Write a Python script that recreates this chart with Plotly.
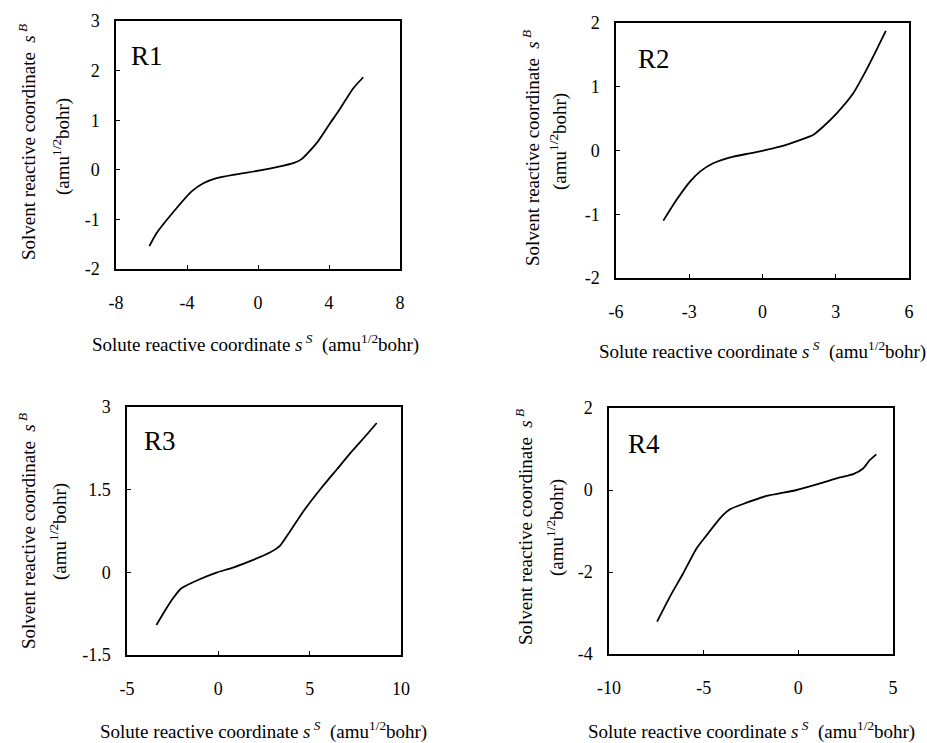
import plotly.graph_objects as go

# ---- data ----
r1_x = [-6.12, -5.71, -4.58, -3.74, -3.08, -2.33, -1.39, 0.11, 1.05, 1.99, 2.46, 3.30, 4.06, 4.52, 5.37, 5.93]
r1_y = [-1.54, -1.275, -0.77, -0.436, -0.27, -0.168, -0.10, -0.013, 0.054, 0.134, 0.215, 0.537, 0.94, 1.174, 1.644, 1.866]

r2_x = [-4.06, -3.52, -2.97, -2.56, -2.02, -1.20, -0.52, 0.03, 0.71, 1.53, 2.07, 2.48, 3.03, 3.71, 4.25, 4.66, 5.05]
r2_y = [-1.10, -0.774, -0.488, -0.331, -0.20, -0.096, -0.044, -0.003, 0.06, 0.164, 0.243, 0.373, 0.58, 0.894, 1.26, 1.57, 1.875]

r3_x = [-3.39, -2.84, -2.48, -2.02, -1.02, -0.10, 0.81, 1.91, 2.82, 3.37, 3.92, 4.65, 5.56, 6.47, 7.39, 8.12, 8.67]
r3_y = [-0.955, -0.652, -0.47, -0.289, -0.125, -0.004, 0.087, 0.226, 0.359, 0.48, 0.741, 1.104, 1.498, 1.861, 2.225, 2.497, 2.71]

r4_x = [-7.46, -6.78, -6.08, -5.37, -4.84, -4.14, -3.61, -2.73, -1.67, -0.09, 1.14, 2.19, 2.90, 3.42, 3.77, 4.12]
r4_y = [-3.21, -2.60, -2.03, -1.42, -1.10, -0.69, -0.47, -0.31, -0.146, 0.0, 0.16, 0.306, 0.386, 0.524, 0.727, 0.87]

panel_names = ["R1", "R2", "R3", "R4"]
x_ranges = [[-8, 8], [-6, 6], [-5, 10], [-10, 5]]
y_ranges = [[-2, 3], [-2, 2], [-1.5, 3], [-4, 2]]
x_ticks = [[-8, -4, 0, 4, 8], [-6, -3, 0, 3, 6], [-5, 0, 5, 10], [-10, -5, 0, 5]]
x_ticktext = [["-8", "-4", "0", "4", "8"], ["-6", "-3", "0", "3", "6"], ["-5", "0", "5", "10"], ["-10", "-5", "0", "5"]]
y_ticks = [[-2, -1, 0, 1, 2, 3], [-2, -1, 0, 1, 2], [-1.5, 0, 1.5, 3], [-4, -2, 0, 2]]
y_ticktext = [["-2", "-1", "0", "1", "2", "3"], ["-2", "-1", "0", "1", "2"],
              ["-1.5", "0", "1.5", "3"], ["-4", "-2", "0", "2"]]
label_pos = [(-7.25, 2.3), (-5.18, 1.44), (-4.16, 2.38), (-9.09, 1.13)]

xs = [r1_x, r2_x, r3_x, r4_x]
ys = [r1_y, r2_y, r3_y, r4_y]

W, H = 927, 743
# plot boxes in pixels: (left, right, top, bottom)
boxes = [(116, 400, 21, 269), (616, 909, 23, 278), (127, 401, 407, 655), (609, 893, 408, 654)]

FONT = "Liberation Serif, Times New Roman, DejaVu Serif, serif"

fig = go.Figure()
layout = dict(width=W, height=H, margin=dict(l=0, r=0, t=0, b=0, autoexpand=False),
              paper_bgcolor="white", plot_bgcolor="white", showlegend=False,
              font=dict(family=FONT, size=18, color="black"))
annotations = []

for i in range(4):
    n = "" if i == 0 else str(i + 1)
    l, r, t, b = boxes[i]
    fig.add_trace(go.Scatter(x=xs[i], y=ys[i], mode="lines",
                             line=dict(color="black", width=1.8, shape="spline", smoothing=0.6),
                             xaxis="x" + n, yaxis="y" + n, hoverinfo="skip"))
    layout["xaxis" + n] = dict(domain=[l / W, r / W], range=x_ranges[i], anchor="y" + n,
                               tickvals=x_ticks[i], ticktext=x_ticktext[i], ticks="inside", ticklen=4,
                               tickcolor="black", showline=True, linecolor="black", linewidth=1.5, mirror=True,
                               showgrid=False, zeroline=False, ticklabelstandoff=17, automargin=False,
                               tickfont=dict(family=FONT, size=18, color="black"))
    layout["yaxis" + n] = dict(domain=[1 - b / H, 1 - t / H], range=y_ranges[i], anchor="x" + n,
                               tickvals=y_ticks[i], ticktext=y_ticktext[i], ticks="inside", ticklen=4,
                               tickcolor="black", showline=True, linecolor="black", linewidth=1.5, mirror=True,
                               showgrid=False, zeroline=False, ticklabelstandoff=11, automargin=False,
                               tickfont=dict(family=FONT, size=18, color="black"))
    lx, ly = label_pos[i]
    annotations.append(dict(x=lx, y=ly, xref="x" + n, yref="y" + n, text=panel_names[i], showarrow=False,
                            xanchor="left", yanchor="middle", font=dict(family=FONT, size=27, color="black")))

# axis titles (pixel positions)
xtitle = "Solute reactive coordinate <i>s</i><sup> <i>S</i></sup>  (amu<sup>1/2</sup>bohr)"
ytitle1 = "Solvent reactive coordinate  <i>s</i><sup> <i>B</i></sup>"
ytitle2 = "(amu<sup>1/2</sup>bohr)"
xt_pos = [(256, 343), (762, 350), (263, 730), (751, 730)]
yt1_pos = [(27, 142), (531, 148), (27, 531), (524, 527)]
yt2_pos = [(61, 147), (558, 142), (58, 532), (555, 528)]
for i in range(4):
    annotations.append(dict(x=xt_pos[i][0] / W, y=1 - xt_pos[i][1] / H, xref="paper", yref="paper",
                            text=xtitle, showarrow=False, xanchor="center", yanchor="middle",
                            font=dict(family=FONT, size=19, color="black")))
    annotations.append(dict(x=yt1_pos[i][0] / W, y=1 - yt1_pos[i][1] / H, xref="paper", yref="paper",
                            text=ytitle1, showarrow=False, textangle=-90, xanchor="center", yanchor="middle",
                            font=dict(family=FONT, size=19, color="black")))
    annotations.append(dict(x=yt2_pos[i][0] / W, y=1 - yt2_pos[i][1] / H, xref="paper", yref="paper",
                            text=ytitle2, showarrow=False, textangle=-90, xanchor="center", yanchor="middle",
                            font=dict(family=FONT, size=19, color="black")))

layout["annotations"] = annotations
fig.update_layout(**layout)
fig.write_html("out.html", config={"displayModeBar": False},
               post_script="document.body.style.margin='0';document.body.style.overflow='hidden';")
